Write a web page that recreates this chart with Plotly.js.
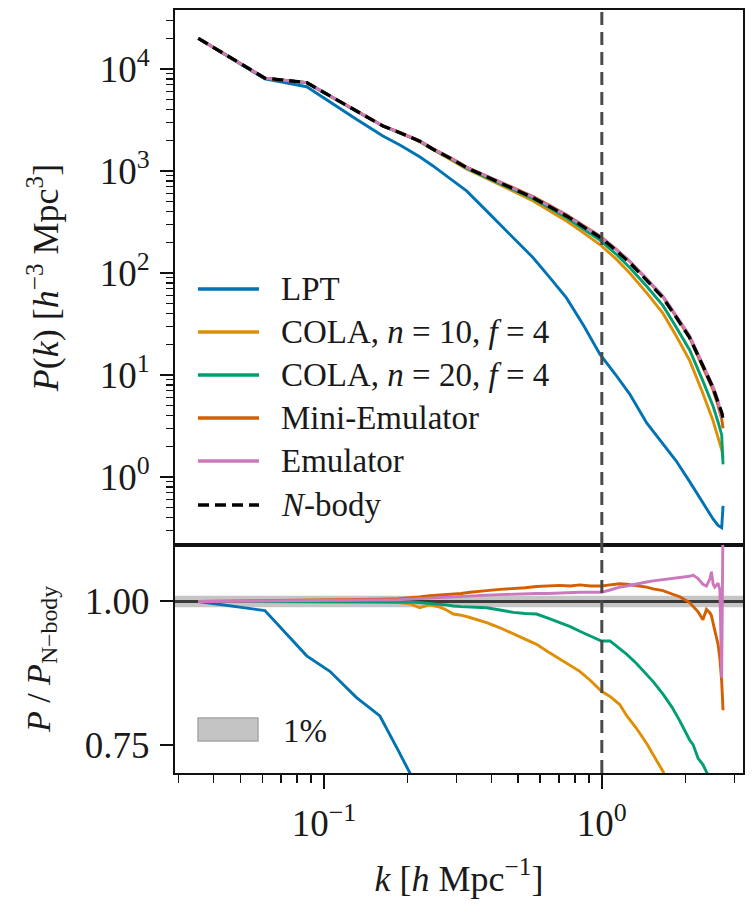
<!DOCTYPE html>
<html><head><meta charset="utf-8">
<script src="https://cdn.plot.ly/plotly-3.0.1.min.js"></script>
<style>html,body{margin:0;padding:0;background:#fff;}</style>
</head><body>
<div id="chart" style="width:753px;height:909px;"></div>
<script>
// ---------- data: upper panel, P(k) ----------
const k_top = [0.0353, 0.0613, 0.0867, 0.1023, 0.130, 0.163, 0.1876, 0.221, 0.247, 0.290, 0.326, 0.380, 0.430, 0.50, 0.566, 0.65, 0.746, 0.86, 0.984, 1.12, 1.26, 1.45, 1.66, 1.85, 2.07, 2.30, 2.51, 2.62, 2.70, 2.73];
const P_lpt   = [19950, 8000, 6700, 4950, 3250, 2200, 1800, 1380, 1120, 809, 637, 420, 300, 199, 141, 90, 57, 30.6, 16, 10.1, 6.5, 3.39, 2.11, 1.44, 0.90, 0.57, 0.39, 0.335, 0.318, 0.52];
const P_cola10 = [19950, 8130, 7340, 5650, 3900, 2760, 2368, 1938, 1620, 1273, 1048, 861, 734, 598, 508, 406, 323, 247, 190, 139, 100, 63.8, 40.1, 24.2, 13.9, 6.8, 3.6, 2.43, 1.85, 1.55];
const P_cola20 = [19950, 8130, 7340, 5650, 3900, 2760, 2370, 1956, 1626, 1290, 1066, 883, 757, 624, 535, 433, 347, 268, 210, 155, 113, 74, 47.8, 29.6, 17.6, 9.0, 5.0, 3.46, 2.58, 1.33];
const P_mini   = [19950, 8140, 7350, 5665, 3912, 2771, 2385, 1975, 1650, 1316, 1092, 908, 785, 651, 561, 458, 372, 291, 231, 173, 130, 86.9, 58.1, 37.4, 23.2, 12.2, 7.2, 5.0, 3.7, 3.0];
const P_emu    = [19950, 8140, 7350, 5660, 3908, 2768, 2381, 1970, 1643, 1310, 1087, 903, 778, 646, 555, 452, 367, 287, 229, 172, 130, 87.7, 59.2, 38.5, 24.2, 13.0, 7.8, 5.6, 3.8, 4.2];
const P_nbody  = [19950, 8130, 7340, 5650, 3900, 2760, 2373, 1960, 1633, 1300, 1077, 893, 769, 637, 547, 446, 362, 283, 225, 168, 126, 84.8, 57, 37, 23.2, 12.6, 7.5, 5.4, 4.3, 3.7];

// ---------- data: lower panel, P / P_N-body ----------
const k_ratio = [0.0353, 0.0613, 0.0867, 0.105, 0.131, 0.159, 0.185, 0.204, 0.221, 0.240, 0.261, 0.276, 0.292, 0.312, 0.335, 0.360, 0.385, 0.430, 0.480, 0.530, 0.582, 0.640, 0.706, 0.770, 0.833, 0.910, 0.997, 1.07, 1.16, 1.227, 1.33, 1.45, 1.53, 1.66, 1.79, 1.91, 2.07, 2.13, 2.22, 2.31, 2.38, 2.45, 2.48, 2.515, 2.55, 2.62, 2.66, 2.70, 2.73];
const R_lpt = [1.000, 0.984, 0.905, 0.878, 0.832, 0.800, 0.740, 0.700, 0.660, 0.620, null, null, null, null, null, null, null, null, null, null, null, null, null, null, null, null, null, null, null, null, null, null, null, null, null, null, null, null, null, null, null, null, null, null, null, null, null, null, null];
const R_cola10 = [1.000, 1.000, 1.000, 1.000, 0.999, 0.999, 0.998, 0.996, 0.989, 0.994, 0.990, 0.985, 0.978, 0.976, 0.972, 0.968, 0.963, 0.954, 0.943, 0.934, 0.925, 0.912, 0.899, 0.889, 0.878, 0.862, 0.843, 0.834, 0.820, 0.801, 0.779, 0.752, 0.732, 0.703, 0.670, 0.640, null, null, null, null, null, null, null, null, null, null, null, null, null];
const R_cola20 = [1.000, 1.000, 1.000, 1.000, 1.000, 1.000, 0.999, 0.999, 0.998, 0.997, 0.995, 0.994, 0.992, 0.991, 0.990, 0.990, 0.989, 0.985, 0.981, 0.979, 0.978, 0.971, 0.963, 0.956, 0.948, 0.940, 0.931, 0.931, 0.918, 0.908, 0.892, 0.873, 0.860, 0.838, 0.815, 0.791, 0.758, 0.750, 0.726, 0.715, 0.703, 0.690, null, null, null, null, null, null, null];
const R_mini = [1.000, 1.001, 1.002, 1.003, 1.003, 1.004, 1.005, 1.006, 1.008, 1.010, 1.011, 1.012, 1.013, 1.014, 1.016, 1.017, 1.019, 1.021, 1.022, 1.024, 1.026, 1.027, 1.028, 1.027, 1.029, 1.027, 1.027, 1.029, 1.031, 1.030, 1.028, 1.025, 1.022, 1.019, 1.013, 1.008, 0.998, 0.992, 0.982, 0.968, 0.986, 0.980, 0.975, 0.962, 0.950, 0.925, 0.900, 0.860, 0.810];
const R_emu = [1.000, 1.001, 1.001, 1.002, 1.002, 1.003, 1.003, 1.004, 1.005, 1.006, 1.007, 1.007, 1.008, 1.009, 1.010, 1.011, 1.011, 1.012, 1.013, 1.014, 1.014, 1.014, 1.015, 1.015, 1.016, 1.016, 1.016, 1.020, 1.025, 1.027, 1.031, 1.034, 1.036, 1.038, 1.040, 1.042, 1.044, 1.046, 1.040, 1.030, 1.027, 1.040, 1.052, 1.030, 1.025, 1.032, 1.020, 0.867, 1.150];

// ---------- labels ----------
const seriesNames = ['LPT', 'COLA, <i>n</i> = 10, <i>f</i> = 4', 'COLA, <i>n</i> = 20, <i>f</i> = 4', 'Mini-Emulator', 'Emulator', '<i>N</i>-body'];
const seriesColors = ['#0173b2', '#de8f05', '#029e73', '#d55e00', '#cc78bc', '#000000'];
const yTopTickVals = [1, 10, 100, 1000, 10000];
const yTopTickText = ['10<sup>0</sup>', '10<sup>1</sup>', '10<sup>2</sup>', '10<sup>3</sup>', '10<sup>4</sup>'];
const xTickVals = [0.1, 1];
const xTickText = ['10<sup>−1</sup>', '10<sup>0</sup>'];
const yBotTickVals = [0.75, 1.0];
const yBotTickText = ['0.75', '1.00'];
const bandLabel = '1%';

// ---------- style ----------
const FONT = 'Liberation Serif, DejaVu Serif, serif';
const TXT = '#1a1a1a';
const FS_LEG = 33;
const FS_TICK = 37;
const FS_TITLE = 36;
const LW = 2.9;
const W = 753, H = 909;
const M = {l: 175, r: 10, t: 10, b: 136};
const plotW = W - M.l - M.r, plotH = H - M.t - M.b;
const split = (H - M.b - 545) / plotH;   // panel boundary in paper units
const px2x = px => (px - M.l) / plotW;
const py2y = py => (H - M.b - py) / plotH;

function minors(lo, hi, d0, d1) {
  const out = [];
  for (let d = d0; d <= d1; d++) for (let m = 2; m <= 9; m++) {
    const v = m * Math.pow(10, d);
    if (v > lo && v < hi) out.push(v);
  }
  return out;
}

const xr = [-1.536, 0.508];
const yTopR = [-0.667, 4.578];
const yBotR = [0.7004, 1.0986];

const topY = [P_lpt, P_cola10, P_cola20, P_mini, P_emu, P_nbody];
const botY = [R_lpt, R_cola10, R_cola20, R_mini, R_emu];

const traces = [];
topY.forEach((arr, i) => {
  traces.push({
    x: k_top, y: arr, xaxis: 'x', yaxis: 'y', type: 'scatter', mode: 'lines',
    name: seriesNames[i], showlegend: false, hoverinfo: 'skip',
    line: {color: seriesColors[i], width: i === 5 ? 3.3 : LW, dash: i === 5 ? '11px,6px' : 'solid'}
  });
});
botY.forEach((arr, i) => {
  traces.push({
    x: k_ratio, y: arr, xaxis: 'x2', yaxis: 'y2', type: 'scatter', mode: 'lines',
    name: seriesNames[i], showlegend: false, hoverinfo: 'skip', connectgaps: false,
    line: {color: seriesColors[i], width: LW}
  });
});

const axisCommon = {
  showline: true, linecolor: '#111', linewidth: 2, mirror: true,
  showgrid: false, zeroline: false, tickcolor: '#111', tickwidth: 2,
  tickfont: {family: FONT, size: FS_TICK, color: TXT}
};

const shapes = [
  // 1% band and unity line
  {type: 'rect', xref: 'x2 domain', yref: 'y2', x0: 0, x1: 1, y0: 0.99, y1: 1.01,
   fillcolor: 'rgba(150,150,150,0.55)', line: {width: 0}, layer: 'below'},
  {type: 'line', xref: 'x2 domain', yref: 'y2', x0: 0, x1: 1, y0: 1, y1: 1,
   line: {color: '#3a3a3a', width: 3}, layer: 'below'},
  // k = 1 marker
  {type: 'line', xref: 'x', yref: 'y domain', x0: 1, x1: 1, y0: 0, y1: 1,
   line: {color: '#4a4a4a', width: 3, dash: '13px,7px'}, layer: 'above'},
  {type: 'line', xref: 'x2', yref: 'y2 domain', x0: 1, x1: 1, y0: 0, y1: 1,
   line: {color: '#4a4a4a', width: 3, dash: '13px,7px'}, layer: 'above'},
  // band legend patch
  {type: 'rect', xref: 'paper', yref: 'paper', x0: px2x(198), x1: px2x(258), y0: py2y(741), y1: py2y(718),
   fillcolor: '#c4c4c4', line: {color: '#a8a8a8', width: 1.5}}
];

const annotations = [
  {xref: 'paper', yref: 'paper', x: px2x(281), y: py2y(731), xanchor: 'left', yanchor: 'middle',
   text: bandLabel, showarrow: false, font: {family: FONT, size: FS_LEG, color: TXT}}
];

const legendRows = [289, 332, 375, 418, 461, 505];
seriesNames.forEach((nm, i) => {
  const yy = py2y(legendRows[i]);
  if (i === 5) {
    shapes.push({type: 'line', xref: 'paper', yref: 'paper', x0: px2x(198), x1: px2x(259), y0: yy, y1: yy,
      line: {color: '#000', width: 3.3, dash: '11px,6px'}});
  } else {
    shapes.push({type: 'line', xref: 'paper', yref: 'paper', x0: px2x(198), x1: px2x(259), y0: yy, y1: yy,
      line: {color: seriesColors[i], width: LW + 0.4}});
  }
  annotations.push({xref: 'paper', yref: 'paper', x: px2x(279), y: yy, xanchor: 'left', yanchor: 'middle',
    text: nm, showarrow: false, font: {family: FONT, size: FS_LEG, color: TXT}});
});

const layout = {
  width: W, height: H, margin: M,
  paper_bgcolor: '#fff', plot_bgcolor: '#fff', showlegend: false,
  font: {family: FONT, color: TXT},
  xaxis: Object.assign({}, axisCommon, {
    type: 'log', range: xr, anchor: 'y', domain: [0, 1],
    showticklabels: false, ticks: ''
  }),
  yaxis: Object.assign({}, axisCommon, {
    type: 'log', range: yTopR, anchor: 'x', domain: [split, 1],
    tickmode: 'array', tickvals: yTopTickVals, ticktext: yTopTickText,
    ticks: 'outside', ticklen: 13, ticklabelstandoff: 3,
    minor: {ticks: 'outside', ticklen: 7, tickwidth: 1.4, tickcolor: '#111', showgrid: false,
            tickmode: 'array', tickvals: minors(0.2, 40000, -1, 4)},
    title: {text: '<i>P</i>(<i>k</i>) [<i>h</i><sup>−3</sup> Mpc<sup>3</sup>]', font: {family: FONT, size: FS_TITLE, color: TXT}, standoff: 30}
  }),
  xaxis2: Object.assign({}, axisCommon, {
    type: 'log', range: xr, anchor: 'y2', domain: [0, 1],
    tickmode: 'array', tickvals: xTickVals, ticktext: xTickText,
    ticks: 'outside', ticklen: 14, ticklabelstandoff: 3,
    minor: {ticks: 'outside', ticklen: 8, tickwidth: 1.5, tickcolor: '#111', showgrid: false,
            tickmode: 'array', tickvals: minors(0.029, 3.22, -2, 0)},
    title: {text: '<i>k</i> [<i>h</i> Mpc<sup>−1</sup>]', font: {family: FONT, size: FS_TITLE, color: TXT}, standoff: 22}
  }),
  yaxis2: Object.assign({}, axisCommon, {
    range: yBotR, anchor: 'x2', domain: [0, split],
    tickmode: 'array', tickvals: yBotTickVals, ticktext: yBotTickText,
    ticks: 'outside', ticklen: 13, ticklabelstandoff: 3,
    title: {text: '<i>P</i> / <i>P</i><sub>N−body</sub>', font: {family: FONT, size: FS_TITLE - 2, color: TXT}, standoff: 24}
  }),
  shapes: shapes,
  annotations: annotations
};

Plotly.newPlot('chart', traces, layout, {staticPlot: true, displayModeBar: false});
</script>
</body></html>
